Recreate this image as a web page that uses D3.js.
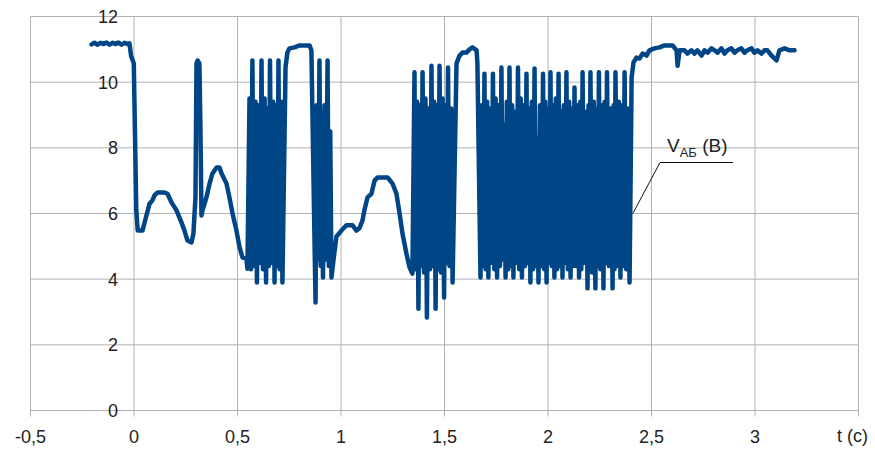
<!DOCTYPE html>
<html>
<head>
<meta charset="utf-8">
<script src="https://cdn.jsdelivr.net/npm/d3@7"></script>
<style>
  html, body { margin: 0; padding: 0; background: #fff; }
  svg { display: block; font-family: "Liberation Sans", Arial, sans-serif; }
</style>
</head>
<body>
<svg id="chart" width="875" height="450"></svg>
<script>
// Tick values and labels (decimal comma)
const xTicks = [-0.5, 0, 0.5, 1, 1.5, 2, 2.5, 3, 3.5];
const xTickLabels = ["-0,5", "0", "0,5", "1", "1,5", "2", "2,5", "3", ""];
const yTicks = [0, 2, 4, 6, 8, 10, 12];
const yTickLabels = ["0", "2", "4", "6", "8", "10", "12"];

// Voltage V_AB (V) versus time t (s), split into stretches of the record
const idleBefore = [[-0.205,11.15],[-0.191,11.2],[-0.176,11.14],[-0.162,11.2],[-0.147,11.16],[-0.133,11.21],[-0.118,11.14],[-0.104,11.2],[-0.089,11.16],[-0.075,11.21],[-0.060,11.14],[-0.046,11.2],[-0.031,11.16],[-0.022,11.18],[-0.014,10.8],[-0.001,10.57],[0.011,6.1],[0.018,5.48],[0.041,5.48]];

const startTransient = [[0.060,5.94],[0.075,6.3],[0.089,6.4],[0.099,6.55],[0.114,6.64],[0.147,6.64],[0.162,6.6],[0.181,6.34],[0.205,6.1],[0.229,5.73],[0.244,5.48],[0.258,5.18],[0.278,5.12],[0.287,5.39],[0.297,6.49],[0.302,10.57],[0.307,10.66],[0.316,10.57],[0.321,8.53],[0.326,5.94],[0.331,6.1],[0.350,6.49],[0.365,6.91],[0.379,7.22],[0.399,7.4],[0.413,7.4],[0.423,7.22],[0.447,6.91],[0.461,6.49],[0.476,6.0],[0.495,5.48],[0.510,4.97],[0.524,4.66],[0.543,4.63],[0.548,4.32]];

const burst1 = [[0.558,9.5],[0.565,4.3],[0.572,10.66],[0.579,4.4],[0.587,9.4],[0.594,3.9],[0.601,9.3],[0.609,4.5],[0.616,10.66],[0.623,4.3],[0.631,9.5],[0.638,3.9],[0.644,9.2],[0.651,4.4],[0.657,10.66],[0.664,4.5],[0.672,9.4],[0.679,3.9],[0.685,9.3],[0.692,4.4],[0.698,10.66],[0.704,4.3],[0.711,9.4],[0.717,3.9]];

const pause1 = [[0.732,10.45],[0.741,10.9],[0.751,11.03],[0.775,11.06],[0.800,11.12],[0.824,11.12],[0.848,11.12],[0.857,10.97],[0.877,3.29],[0.883,9.3],[0.889,4.6],[0.896,10.66],[0.902,4.4],[0.907,9.1],[0.913,4.05],[0.920,9.3],[0.927,4.6],[0.935,10.66],[0.941,4.4],[0.948,8.5],[0.954,4.05],[0.964,4.6],[0.978,5.3],[1.002,5.48],[1.026,5.64],[1.056,5.64],[1.075,5.48],[1.089,5.55],[1.104,5.79],[1.113,6.1],[1.128,6.49],[1.147,6.6],[1.162,7.0],[1.177,7.1],[1.225,7.1],[1.249,6.91],[1.268,6.6],[1.283,6.0],[1.297,5.39],[1.316,4.78],[1.331,4.36],[1.345,4.17]];

const burst2 = [[1.355,10.3],[1.361,4.3],[1.368,9.4],[1.374,3.1],[1.381,9.3],[1.387,4.4],[1.394,10.3],[1.401,4.2],[1.408,9.5],[1.415,2.83],[1.422,9.2],[1.430,4.3],[1.437,10.5],[1.444,4.4],[1.450,9.4],[1.457,3.1],[1.463,9.3],[1.470,4.3],[1.476,10.5],[1.483,4.2],[1.491,9.5],[1.498,3.44],[1.504,9.3],[1.511,4.5],[1.517,10.45],[1.524,4.4],[1.532,9.2],[1.539,3.9]];

const pause2 = [[1.558,10.57],[1.572,10.8],[1.587,10.9],[1.606,10.9],[1.621,11.0],[1.635,11.06],[1.655,10.97],[1.659,10.57]];

const burst3 = [[1.674,4.05],[1.680,9.3],[1.687,4.4],[1.693,10.26],[1.699,4.3],[1.706,9.4],[1.712,4.05],[1.719,9.2],[1.727,4.5],[1.734,10.26],[1.741,4.3],[1.747,9.5],[1.754,4.05],[1.761,9.3],[1.768,4.4],[1.775,10.45],[1.782,4.6],[1.788,8.7],[1.795,4.05],[1.801,9.4],[1.808,4.3],[1.814,10.45],[1.820,4.4],[1.827,9.3],[1.833,4.05],[1.840,9.1],[1.848,4.5],[1.855,10.45],[1.861,4.3],[1.868,9.5],[1.874,4.05],[1.881,9.3],[1.889,4.4],[1.896,10.26],[1.902,4.5],[1.909,9.2],[1.915,3.9],[1.922,9.4],[1.928,4.3],[1.935,10.42],[1.941,4.4],[1.948,8.3],[1.954,3.9],[1.961,9.3],[1.969,4.4],[1.976,10.26],[1.982,4.3],[1.987,9.4],[1.993,3.9],[1.999,9.2],[2.006,4.5],[2.012,10.3],[2.018,4.4],[2.025,9.3],[2.031,4.05],[2.038,9.5],[2.044,4.3],[2.051,10.26],[2.057,4.4],[2.064,9.1],[2.070,4.05],[2.076,9.3],[2.083,4.5],[2.089,10.3],[2.096,4.3],[2.102,9.4],[2.109,4.05],[2.115,9.2],[2.122,4.4],[2.128,9.84],[2.135,4.4],[2.143,9.3],[2.150,4.05],[2.156,9.4],[2.161,4.3],[2.167,10.3],[2.175,4.5],[2.183,9.1],[2.191,3.72],[2.196,9.3],[2.200,4.4],[2.205,10.3],[2.213,4.2],[2.221,9.4],[2.229,3.72],[2.235,9.2],[2.240,4.4],[2.246,10.3],[2.253,4.3],[2.261,9.3],[2.268,3.72],[2.274,9.4],[2.279,4.5],[2.285,10.3],[2.294,4.4],[2.303,9.2],[2.312,3.72],[2.317,9.3],[2.321,4.3],[2.326,10.3],[2.334,4.4],[2.342,9.4],[2.350,4.05],[2.357,9.3],[2.363,4.4],[2.370,10.3],[2.378,4.3],[2.386,9.2],[2.394,3.9]];

const steadyAfter = [[2.404,10.15],[2.413,10.6],[2.428,10.75],[2.442,10.72],[2.457,10.87],[2.476,10.81],[2.490,10.97],[2.514,11.03],[2.539,11.06],[2.563,11.12],[2.602,11.12],[2.621,10.97],[2.626,10.5],[2.636,10.97],[2.659,10.97],[2.674,10.87],[2.693,10.97],[2.708,10.87],[2.722,10.97],[2.742,10.81],[2.756,10.97],[2.771,10.9],[2.790,11.03],[2.805,10.97],[2.819,10.9],[2.838,11.03],[2.853,10.87],[2.867,10.97],[2.886,11.03],[2.901,10.9],[2.915,10.97],[2.934,11.03],[2.949,10.9],[2.963,10.97],[2.983,11.03],[2.997,10.9],[3.012,10.97],[3.031,10.87],[3.046,10.97],[3.060,10.97],[3.080,10.81],[3.104,10.66],[3.118,10.97],[3.143,11.03],[3.167,10.97],[3.191,10.97]];

// Point on the trace that the series label points to
const labelAnchor = [2.41, 6.0];

const series = [].concat(idleBefore, startTransient, burst1, pause1, burst2, pause2, burst3, steadyAfter);

const svg = d3.select("#chart");
const x = d3.scaleLinear().domain([-0.5, 3.5]).range([30.5, 858.5]);
const y = d3.scaleLinear().domain([0, 12]).range([410.5, 16.5]);

const gridColor = "#b3b3b3";
const textColor = "#222";

// Horizontal grid lines
svg.append("g").selectAll("line").data(yTicks).join("line")
  .attr("x1", x(-0.5)).attr("x2", x(3.5))
  .attr("y1", d => y(d)).attr("y2", d => y(d))
  .attr("stroke", gridColor).attr("stroke-width", 1);

// Vertical grid lines, extended slightly below the plot as tick marks
svg.append("g").selectAll("line").data(xTicks).join("line")
  .attr("x1", d => x(d)).attr("x2", d => x(d))
  .attr("y1", y(12)).attr("y2", y(0) + 6)
  .attr("stroke", gridColor).attr("stroke-width", 1);

// X axis labels
svg.append("g").selectAll("text").data(xTicks).join("text")
  .attr("x", d => x(d)).attr("y", 443)
  .attr("text-anchor", "middle")
  .attr("font-size", 18).attr("fill", textColor)
  .text((d, i) => xTickLabels[i]);

svg.append("text")
  .attr("x", 837).attr("y", 442)
  .attr("font-size", 18).attr("fill", textColor)
  .text("t (c)");

// Y axis labels, placed along the t = 0 line
svg.append("g").selectAll("text").data(yTicks).join("text")
  .attr("x", x(0) - 16).attr("y", d => y(d))
  .attr("dy", "0.36em")
  .attr("text-anchor", "end")
  .attr("font-size", 18).attr("fill", textColor)
  .text((d, i) => yTickLabels[i]);

// Leader line for the series label
const lx = 660, ly = 162.5;
svg.append("path")
  .attr("d", `M${x(labelAnchor[0])},${y(labelAnchor[1])} L${lx},${ly} L${lx + 73},${ly}`)
  .attr("fill", "none").attr("stroke", "#111").attr("stroke-width", 1);

// Voltage trace
const line = d3.line().x(d => x(d[0])).y(d => y(d[1]));
svg.append("path")
  .datum(series)
  .attr("d", line)
  .attr("fill", "none")
  .attr("stroke", "#004586")
  .attr("stroke-width", 4.5)
  .attr("stroke-linejoin", "round")
  .attr("stroke-linecap", "round");

// Series label
const lab = svg.append("text")
  .attr("x", 667).attr("y", 152)
  .attr("font-size", 19).attr("fill", textColor);
lab.append("tspan").text("V");
lab.append("tspan").attr("dy", 5).attr("font-size", 13).text("АБ");
lab.append("tspan").attr("dy", -5).text(" (В)");
</script>
</body>
</html>
